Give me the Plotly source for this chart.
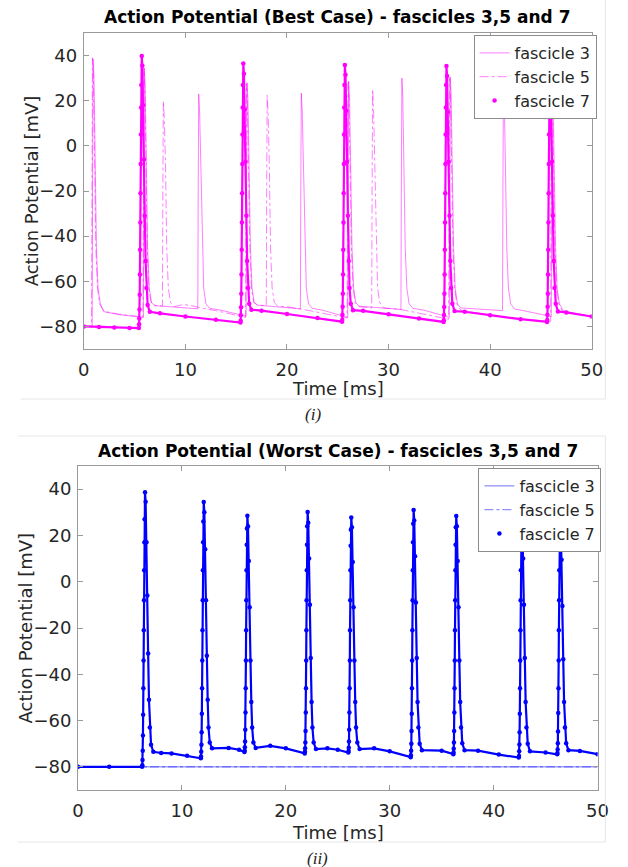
import plotly.graph_objects as go

# ---------------------------------------------------------------------------
# Membrane potential traces, (time [ms], potential [mV]) samples per fascicle
# ---------------------------------------------------------------------------

best_f3 = [
    (0, -80), (0.82, -80), (0.86, -20), (0.91, 38.5), (1.0, 30.5), (1.12, -8), (1.24, -45),
    (1.4, -63), (1.62, -70), (2.0, -73.5), (3.5, -74.8), (5.86, -76),
    (5.90, -20), (5.95, 34.5), (6.04, 26.5), (6.16, -8), (6.28, -45), (6.44, -63), (6.66, -69.5),
    (7.0, -70.8), (9.0, -71.5), (11.22, -72.2),
    (11.26, -20), (11.31, 23), (11.40, 15), (11.52, -8), (11.64, -45), (11.8, -63), (12.02, -70),
    (12.4, -72), (13.5, -72.8), (15.98, -75.5),
    (16.02, -20), (16.07, 28), (16.16, 20), (16.28, -8), (16.4, -45), (16.56, -63), (16.78, -69.5),
    (17.1, -70.6), (19.0, -71.3), (21.32, -72.2),
    (21.36, -20), (21.41, 23.4), (21.5, 15.4), (21.62, -8), (21.74, -45), (21.9, -63), (22.12, -70),
    (22.5, -72), (23.5, -72.8), (25.98, -76),
    (26.02, -20), (26.07, 28.7), (26.16, 20.7), (26.28, -8), (26.4, -45), (26.56, -63), (26.78, -69.5),
    (27.1, -71), (29.0, -71.8), (31.22, -72.5),
    (31.26, -20), (31.31, 30), (31.4, 22), (31.52, -8), (31.64, -45), (31.8, -63), (32.02, -70),
    (32.4, -72), (33.5, -72.8), (35.98, -76),
    (36.02, -20), (36.07, 30.5), (36.16, 22.5), (36.28, -8), (36.4, -45), (36.56, -63), (36.78, -70),
    (37.1, -71.8), (39.0, -72.5), (41.22, -73),
    (41.26, -20), (41.31, 27), (41.4, 19), (41.52, -8), (41.64, -45), (41.8, -63), (42.02, -70),
    (42.4, -72.3), (43.5, -73.2), (46.02, -75.6),
    (46.06, -20), (46.11, 28), (46.2, 20), (46.32, -8), (46.44, -45), (46.6, -63), (46.82, -70),
    (47.2, -73), (48.5, -74.5), (50, -75.6),
]

best_f5 = [
    (0, -80), (0.76, -80), (0.80, -20), (0.85, 39), (0.94, 31), (1.06, -8), (1.18, -45),
    (1.34, -63), (1.56, -70), (1.95, -73.3), (3.5, -74.6), (5.82, -75.8),
    (5.86, -20), (5.91, 34), (6.0, 26), (6.12, -8), (6.24, -45), (6.4, -63), (6.62, -69.3),
    (7.0, -70.6), (7.74, -71),
    (7.78, -20), (7.83, 19.9), (7.92, 12), (8.04, -8), (8.16, -45), (8.32, -63), (8.54, -69.5),
    (8.9, -71.2), (9.8, -70.3), (10.6, -70.8), (11.5, -71.8), (13.0, -73), (15.92, -76),
    (15.96, -20), (16.01, 27.5), (16.1, 19.5), (16.22, -8), (16.34, -45), (16.5, -63), (16.72, -69.3),
    (17.1, -70.5), (17.96, -70.8),
    (18.0, -20), (18.05, 22.5), (18.14, 14.5), (18.26, -8), (18.38, -45), (18.54, -63), (18.76, -69.5),
    (19.1, -71), (20.0, -71.3), (22.0, -72.8), (25.92, -76.3),
    (25.96, -20), (26.01, 28), (26.1, 20), (26.22, -8), (26.34, -45), (26.5, -63), (26.72, -69.5),
    (27.1, -71.3), (28.34, -71.8),
    (28.38, -20), (28.43, 25), (28.52, 17), (28.64, -8), (28.76, -45), (28.92, -63), (29.14, -69.5),
    (29.5, -71.8), (31.0, -72.3), (33.0, -74), (35.92, -76.8),
    (35.96, -20), (36.01, 30), (36.1, 22), (36.22, -8), (36.34, -45), (36.5, -63), (36.72, -70),
    (37.1, -72.8), (38.0, -73.5), (40.0, -75), (43.0, -76.7), (45.96, -77.8),
    (46.0, -20), (46.05, 28), (46.14, 20), (46.26, -8), (46.38, -45), (46.54, -63), (46.76, -70),
    (47.1, -73.2), (48.0, -74), (50, -75.5),
]

best_f7 = [
    (0, -80), (1.5, -80.2), (3.0, -80.5), (4.5, -80.7), (5.42, -80.7),
    (5.44, -79), (5.46, -76.5), (5.48, -72.5), (5.50, -66), (5.52, -57), (5.54, -46), (5.56, -34),
    (5.58, -21), (5.60, -8), (5.62, 5), (5.64, 17), (5.66, 27), (5.70, 39.8), (5.76, 35.5),
    (5.84, 18), (5.92, -6), (6.00, -31), (6.08, -51), (6.16, -63), (6.28, -70.5), (6.50, -73.5),
    (7.5, -74.2), (10, -75.6), (13, -77), (15.42, -78.3),
    (15.44, -77.5), (15.46, -75), (15.48, -71.5), (15.50, -65.5), (15.52, -57), (15.54, -46),
    (15.56, -34), (15.58, -21), (15.60, -8), (15.62, 5), (15.64, 17), (15.66, 27), (15.70, 36.5),
    (15.76, 32), (15.84, 16), (15.92, -7), (16.00, -31), (16.08, -51), (16.16, -63), (16.28, -70),
    (16.50, -72.6), (17.5, -73), (20, -74.5), (23, -76.3), (25.42, -77.9),
    (25.44, -77.2), (25.46, -74.8), (25.48, -71.3), (25.50, -65.5), (25.52, -57), (25.54, -46),
    (25.56, -34), (25.58, -21), (25.60, -8), (25.62, 5), (25.64, 17), (25.66, 27), (25.70, 35.8),
    (25.76, 31.5), (25.84, 15.5), (25.92, -7), (26.00, -31), (26.08, -51), (26.16, -63), (26.28, -70),
    (26.50, -72.8), (27.5, -73.1), (30, -74.6), (33, -76.5), (35.42, -78),
    (35.44, -77.3), (35.46, -74.9), (35.48, -71.4), (35.50, -65.5), (35.52, -57), (35.54, -46),
    (35.56, -34), (35.58, -21), (35.60, -8), (35.62, 5), (35.64, 17), (35.66, 27), (35.70, 35.4),
    (35.76, 31), (35.84, 15), (35.92, -7), (36.00, -31), (36.08, -51), (36.16, -63), (36.28, -70),
    (36.50, -73.2), (37.5, -73.5), (40, -75), (43, -76.8), (45.6, -78),
    (45.62, -77.2), (45.64, -74.8), (45.66, -71.3), (45.68, -65.5), (45.70, -57), (45.72, -46),
    (45.74, -34), (45.76, -21), (45.78, -8), (45.80, 5), (45.82, 17), (45.84, 27), (45.88, 35),
    (45.94, 31), (46.02, 15), (46.10, -7), (46.18, -31), (46.26, -51), (46.34, -63), (46.46, -70),
    (46.68, -73.4), (47.5, -73.8), (50, -75.6),
]

worst_f3 = [(0, -80), (10, -80), (20, -80), (30, -80), (40, -80), (50, -80)]

worst_f5 = [(0, -80), (10, -80), (20, -80), (30, -80), (40, -80), (50, -80)]

worst_f7 = [
    (0, -80), (3, -80), (6.17, -80),
    (6.19, -79.3), (6.21, -77), (6.23, -73), (6.25, -66.5), (6.27, -57.5), (6.29, -46), (6.31, -34),
    (6.33, -21), (6.35, -8), (6.37, 5), (6.39, 17), (6.41, 27), (6.45, 38.7), (6.51, 34.5),
    (6.59, 17), (6.67, -6), (6.75, -31), (6.83, -51), (6.91, -63), (7.03, -70.5), (7.25, -73.5),
    (8.0, -74), (9.0, -74.2), (10.5, -75.2), (11.82, -76.3),
    (11.84, -75.5), (11.86, -73.5), (11.88, -70.5), (11.90, -65), (11.92, -57), (11.94, -46),
    (11.96, -34), (11.98, -21), (12.00, -8), (12.02, 5), (12.04, 17), (12.06, 26), (12.10, 34.4),
    (12.16, 30), (12.24, 14), (12.32, -8), (12.40, -32), (12.48, -51), (12.56, -63), (12.68, -69.5),
    (12.90, -72), (14.5, -71.8), (15.5, -72.6), (16.02, -73.6),
    (16.04, -73), (16.06, -71.5), (16.08, -69), (16.10, -64), (16.12, -56.5), (16.14, -46),
    (16.16, -34), (16.18, -21), (16.20, -8), (16.22, 5), (16.24, 16), (16.26, 23), (16.30, 28.5),
    (16.36, 24), (16.44, 9), (16.52, -11), (16.60, -34), (16.68, -52), (16.76, -63), (16.88, -69.5),
    (17.10, -71.8), (18.5, -70.9), (20, -72), (21.82, -74.2),
    (21.84, -73.5), (21.86, -72), (21.88, -69.5), (21.90, -64.5), (21.92, -56.5), (21.94, -46),
    (21.96, -34), (21.98, -21), (22.00, -8), (22.02, 5), (22.04, 16), (22.06, 24), (22.10, 30.1),
    (22.16, 25.5), (22.24, 10), (22.32, -10), (22.40, -33), (22.48, -52), (22.56, -63), (22.68, -69.5),
    (22.90, -72.3), (24, -72), (25, -72.6), (26.02, -73.8),
    (26.04, -73.2), (26.06, -71.7), (26.08, -69), (26.10, -64), (26.12, -56.5), (26.14, -46),
    (26.16, -34), (26.18, -21), (26.20, -8), (26.22, 5), (26.24, 15.5), (26.26, 22.5), (26.30, 27.8),
    (26.36, 23.5), (26.44, 8.5), (26.52, -11), (26.60, -34), (26.68, -52), (26.76, -63), (26.88, -69.5),
    (27.10, -72.3), (28.5, -72), (30, -73.3), (32.02, -75.8),
    (32.04, -75), (32.06, -73), (32.08, -70), (32.10, -64.5), (32.12, -57), (32.14, -46),
    (32.16, -34), (32.18, -21), (32.20, -8), (32.22, 5), (32.24, 17), (32.26, 25), (32.30, 31),
    (32.36, 26.5), (32.44, 11), (32.52, -9), (32.60, -33), (32.68, -52), (32.76, -63), (32.88, -70),
    (33.10, -72.8), (35, -73), (36.12, -74.5),
    (36.14, -73.8), (36.16, -72.2), (36.18, -69.5), (36.20, -64.5), (36.22, -56.5), (36.24, -46),
    (36.26, -34), (36.28, -21), (36.30, -8), (36.32, 5), (36.34, 16), (36.36, 23.5), (36.40, 28.4),
    (36.46, 24), (36.54, 9), (36.62, -11), (36.70, -34), (36.78, -52), (36.86, -63), (36.98, -69.8),
    (37.20, -72.8), (38.5, -73), (40.5, -74.7), (42.42, -76),
    (42.44, -75.3), (42.46, -73.3), (42.48, -70.3), (42.50, -65), (42.52, -57), (42.54, -46),
    (42.56, -34), (42.58, -21), (42.60, -8), (42.62, 5), (42.64, 17), (42.66, 25), (42.70, 30),
    (42.76, 25.5), (42.84, 10), (42.92, -10), (43.00, -33), (43.08, -52), (43.16, -63), (43.28, -70),
    (43.50, -73.3), (45, -73.8), (46.12, -74.6),
    (46.14, -74), (46.16, -72.5), (46.18, -69.8), (46.20, -64.7), (46.22, -56.7), (46.24, -46),
    (46.26, -34), (46.28, -21), (46.30, -8), (46.32, 5), (46.34, 16.5), (46.36, 24), (46.40, 29),
    (46.46, 24.5), (46.54, 9.5), (46.62, -10.5), (46.70, -33.5), (46.78, -52), (46.86, -63),
    (46.98, -69.8), (47.20, -72.8), (48.3, -73.1), (50, -74.5),
]

x_ticks = [0, 10, 20, 30, 40, 50]
y_ticks = [-80, -60, -40, -20, 0, 20, 40]
series_names = ["fascicle 3", "fascicle 5", "fascicle 7"]
panel_titles = [
    "Action Potential (Best Case) - fascicles 3,5 and 7",
    "Action Potential (Worst Case) - fascicles 3,5 and 7",
]
panel_captions = ["(i)", "(ii)"]

W, H = 628, 867
FONT = "DejaVu Sans"
TXT = "#262626"
AX = "#9a9a9a"


def unzip(pairs):
    return [p[0] for p in pairs], [p[1] for p in pairs]


fig = go.Figure()


def add_panel(f3, f5, f7, strong, faint, xa, ya, legend):
    t3, v3 = unzip(f3)
    t5, v5 = unzip(f5)
    t7, v7 = unzip(f7)
    fig.add_trace(go.Scatter(x=t3, y=v3, mode="lines", name=series_names[0],
                             line=dict(color=faint, width=1), xaxis=xa, yaxis=ya, legend=legend))
    fig.add_trace(go.Scatter(x=t5, y=v5, mode="lines", name=series_names[1],
                             line=dict(color=faint, width=1, dash="dashdot"),
                             xaxis=xa, yaxis=ya, legend=legend))
    fig.add_trace(go.Scatter(x=t7, y=v7, mode="lines", name=series_names[2], showlegend=False,
                             line=dict(color=strong, width=2.2), xaxis=xa, yaxis=ya,
                             legendgroup=legend + "f7", legend=legend))
    fig.add_trace(go.Scatter(x=t7, y=v7, mode="markers", name=series_names[2],
                             marker=dict(color=strong, size=4.5, line=dict(width=0)),
                             xaxis=xa, yaxis=ya, legendgroup=legend + "f7", legend=legend))


add_panel(best_f3, best_f5, best_f7, "#ff00ff", "rgba(255,0,255,0.5)", "x", "y", "legend")
add_panel(worst_f3, worst_f5, worst_f7, "#0000ff", "rgba(0,0,255,0.55)", "x2", "y2", "legend2")

# pixel boxes of the two plotting areas: (left, right, top, bottom)
boxes = [(80, 602, 33, 349), (74, 608, 466, 790)]


def px_x(p):
    return p / W


def px_y(p):
    return 1 - p / H


axis_common = dict(
    showline=True, linecolor=AX, linewidth=1, mirror="ticks",
    ticks="inside", ticklen=5, tickcolor=AX, tickwidth=1,
    showgrid=False, zeroline=False,
    tickfont=dict(family=FONT, size=18, color=TXT),
)

for i, (l, r, t, b) in enumerate(boxes):
    sfx = "" if i == 0 else str(i + 1)
    fig.layout["xaxis" + sfx] = dict(
        axis_common, domain=[px_x(l), px_x(r)], range=[0, 50], tickvals=x_ticks,
        anchor="y" + sfx, ticklabelstandoff=4,
    )
    fig.layout["yaxis" + sfx] = dict(
        axis_common, domain=[px_y(b), px_y(t)], range=[-90, 50], tickvals=y_ticks,
        anchor="x" + sfx, ticklabelstandoff=2,
    )

legend_common = dict(
    bgcolor="white", bordercolor="#8c8c8c", borderwidth=1,
    font=dict(family=FONT, size=16, color=TXT),
    itemwidth=30, tracegroupgap=0, xanchor="right", yanchor="top",
)
fig.update_layout(
    legend=dict(legend_common, x=px_x(607), y=px_y(35)),
    legend2=dict(legend_common, x=px_x(612), y=px_y(468)),
)

annotations = []
title_y = [17, 451]
xlabel_y = [388, 832]
ylabel_x = [26, 20]
caption_pos = [(316, 415), (320, 858)]
for i, (l, r, t, b) in enumerate(boxes):
    annotations.append(dict(
        text="<b>" + panel_titles[i] + "</b>", x=px_x(341), y=px_y(title_y[i]),
        xref="paper", yref="paper", showarrow=False, xanchor="center", yanchor="middle",
        font=dict(family=FONT, size=17, color="#000000"),
    ))
    annotations.append(dict(
        text="Time [ms]", x=px_x((l + r) / 2), y=px_y(xlabel_y[i]),
        xref="paper", yref="paper", showarrow=False, xanchor="center", yanchor="middle",
        font=dict(family=FONT, size=18, color=TXT),
    ))
    annotations.append(dict(
        text="Action Potential [mV]", x=px_x(ylabel_x[i]), y=px_y((t + b) / 2),
        xref="paper", yref="paper", showarrow=False, xanchor="center", yanchor="middle",
        textangle=-90, font=dict(family=FONT, size=18, color=TXT),
    ))
    cx, cy = caption_pos[i]
    annotations.append(dict(
        text="<i>" + panel_captions[i] + "</i>", x=px_x(cx), y=px_y(cy),
        xref="paper", yref="paper", showarrow=False, xanchor="center", yanchor="middle",
        font=dict(family="Liberation Serif", size=17, color=TXT),
    ))

# faint frame lines around each sub-figure
frame = "#e6e6e6"
shapes = [
    dict(type="line", xref="paper", yref="paper", x0=px_x(616), x1=px_x(616),
         y0=px_y(0), y1=px_y(399), line=dict(color=frame, width=1)),
    dict(type="line", xref="paper", yref="paper", x0=px_x(15), x1=px_x(616),
         y0=px_y(399), y1=px_y(399), line=dict(color=frame, width=1)),
    dict(type="line", xref="paper", yref="paper", x0=px_x(12), x1=px_x(616),
         y0=px_y(436), y1=px_y(436), line=dict(color=frame, width=1)),
    dict(type="line", xref="paper", yref="paper", x0=px_x(616), x1=px_x(616),
         y0=px_y(436), y1=px_y(842), line=dict(color=frame, width=1)),
    dict(type="line", xref="paper", yref="paper", x0=px_x(12), x1=px_x(616),
         y0=px_y(842), y1=px_y(842), line=dict(color=frame, width=1)),
]

fig.update_layout(
    width=W, height=H, margin=dict(l=0, r=0, t=0, b=0),
    paper_bgcolor="white", plot_bgcolor="white",
    annotations=annotations, shapes=shapes,
    font=dict(family=FONT, color=TXT),
)

fig.write_html("out.html")
